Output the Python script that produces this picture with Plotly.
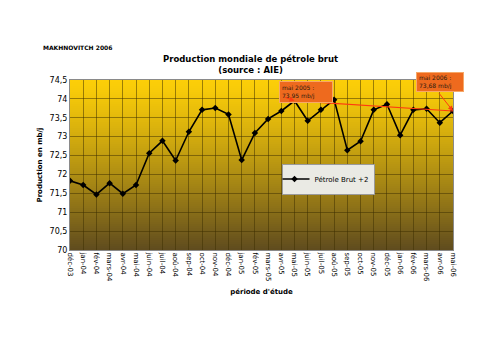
import plotly.graph_objects as go

months = ["déc-03", "jan-04", "fév-04", "mars-04", "avr-04", "mai-04", "juin-04", "juil-04",
          "aoû-04", "sep-04", "oct-04", "nov-04", "déc-04", "jan-05", "fév-05", "mars-05",
          "avr-05", "mai-05", "juin-05", "juil-05", "aoû-05", "sep-05", "oct-05", "nov-05",
          "déc-05", "jan-06", "fév-06", "mars-06", "avr-06", "mai-06"]
production = [71.83, 71.72, 71.47, 71.77, 71.49, 71.72, 72.56, 72.89, 72.37, 73.13,
              73.71, 73.76, 73.59, 72.38, 73.10, 73.47, 73.68, 73.95, 73.42, 73.71,
              73.98, 72.64, 72.88, 73.71, 73.86, 73.04, 73.71, 73.74, 73.37, 73.68]
y_ticks = [70, 70.5, 71, 71.5, 72, 72.5, 73, 73.5, 74, 74.5]

fig = go.Figure()

# gradient background strips
n = 85
top = (252, 206, 8)
bot = (96, 76, 30)
ymin, ymax = 70, 74.5
shapes = []
step = (ymax - ymin) / n
for i in range(n):
    t = (i / (n - 1)) ** 1.2
    c = tuple(int(round(top[k] + (bot[k] - top[k]) * t)) for k in range(3))
    y1 = ymax - step * i
    y0 = max(ymin, y1 - step * 1.8)
    shapes.append(dict(type="rect", xref="paper", yref="y", x0=0, x1=1, y0=y0, y1=y1,
                       fillcolor="rgb(%d,%d,%d)" % c, line=dict(width=0), layer="below"))

fig.add_trace(go.Scatter(x=months, y=production, mode="lines+markers", name="Pétrole Brut +2",
                         line=dict(color="black", width=1.6),
                         marker=dict(symbol="diamond", size=5, color="black")))

# trend line between mai-05 and mai-06
i05 = months.index("mai-05")
i06 = months.index("mai-06")
fig.add_trace(go.Scatter(x=[months[i05], months[i06]], y=[production[i05], production[i06]],
                         mode="lines", line=dict(color="#FF3A10", width=1.2), showlegend=False,
                         hoverinfo="skip"))

font = "Verdana, DejaVu Sans, sans-serif"
annotations = [
    dict(text="<b>MAKHNOVITCH 2006</b>", xref="paper", yref="paper", x=-0.075, y=1.0 + 33/170,
         xanchor="left", yanchor="middle", showarrow=False, font=dict(size=6, color="black", family=font)),
    dict(text="<b>Production mondiale de pétrole brut<br>(source : AIE)</b>", xref="paper", yref="paper",
         x=(250-70)/383, y=1.0 + 3/170, xanchor="center", yanchor="bottom", showarrow=False,
         font=dict(size=8.5, color="black", family=font)),
    # boxes
    dict(text="mai 2005 :<br>73,95 mb/j", xref="paper", yref="paper", x=(279-70)/383, y=(250-81)/170,
         xanchor="left", yanchor="top", align="left", showarrow=False, bgcolor="#EE6A1E",
         bordercolor="#F6A868", borderwidth=1, borderpad=2, width=48,
         font=dict(size=6, color="#2a1a10", family=font)),
    dict(text="mai 2006 :<br>73,68 mb/j", xref="paper", yref="paper", x=(416-70)/383, y=(250-72)/170,
         xanchor="left", yanchor="top", align="left", showarrow=False, bgcolor="#EE6A1E",
         bordercolor="#F6A868", borderwidth=1, borderpad=2, width=42, height=14,
         font=dict(size=6, color="#2a1a10", family=font)),
    # arrows
    dict(text="", x=months[i05], y=production[i05], xref="x", yref="y", ax=-11, ay=-4,
         showarrow=True, arrowhead=2, arrowsize=1, arrowwidth=1, arrowcolor="#FF3A10"),
    dict(text="", x=months[i06], y=production[i06], xref="x", yref="y", ax=-15, ay=-19,
         showarrow=True, arrowhead=2, arrowsize=1, arrowwidth=1, arrowcolor="#FF3A10"),
]

fig.update_layout(
    width=500, height=353,
    margin=dict(l=70, r=47, t=80, b=103),
    paper_bgcolor="white",
    plot_bgcolor="rgba(0,0,0,0)",
    separators=", ",
    shapes=shapes,
    annotations=annotations,
    font=dict(family=font, size=7, color="black"),
    showlegend=True,
    legend=dict(x=(328-70)/383, y=(250-179)/170, xanchor="center", yanchor="middle",
                bgcolor="#EAEAE4", bordercolor="#9a9a9a", borderwidth=1,
                font=dict(size=7, color="black", family=font),
                itemwidth=30, tracegroupgap=0, indentation=-8),
    xaxis=dict(type="category", range=[0, len(months) - 1], tickangle=90,
               showgrid=True, gridcolor="rgba(60,45,0,0.5)", gridwidth=1,
               showline=True, linecolor="#8a8a8a", mirror=True, ticks="",
               tickfont=dict(size=7, family=font),
               title=dict(text="<b>période d'étude</b>", font=dict(size=7, family=font), standoff=8)),
    yaxis=dict(range=[ymin, ymax], tickvals=y_ticks,
               showgrid=True, gridcolor="rgba(60,45,0,0.5)", gridwidth=1,
               showline=True, linecolor="#8a8a8a", mirror=True, ticks="",
               tickfont=dict(size=8, family=font), zeroline=False,
               title=dict(text="<b>Production en mb/j</b>", font=dict(size=7, family=font), standoff=6)),
)

fig.write_html("out.html")
